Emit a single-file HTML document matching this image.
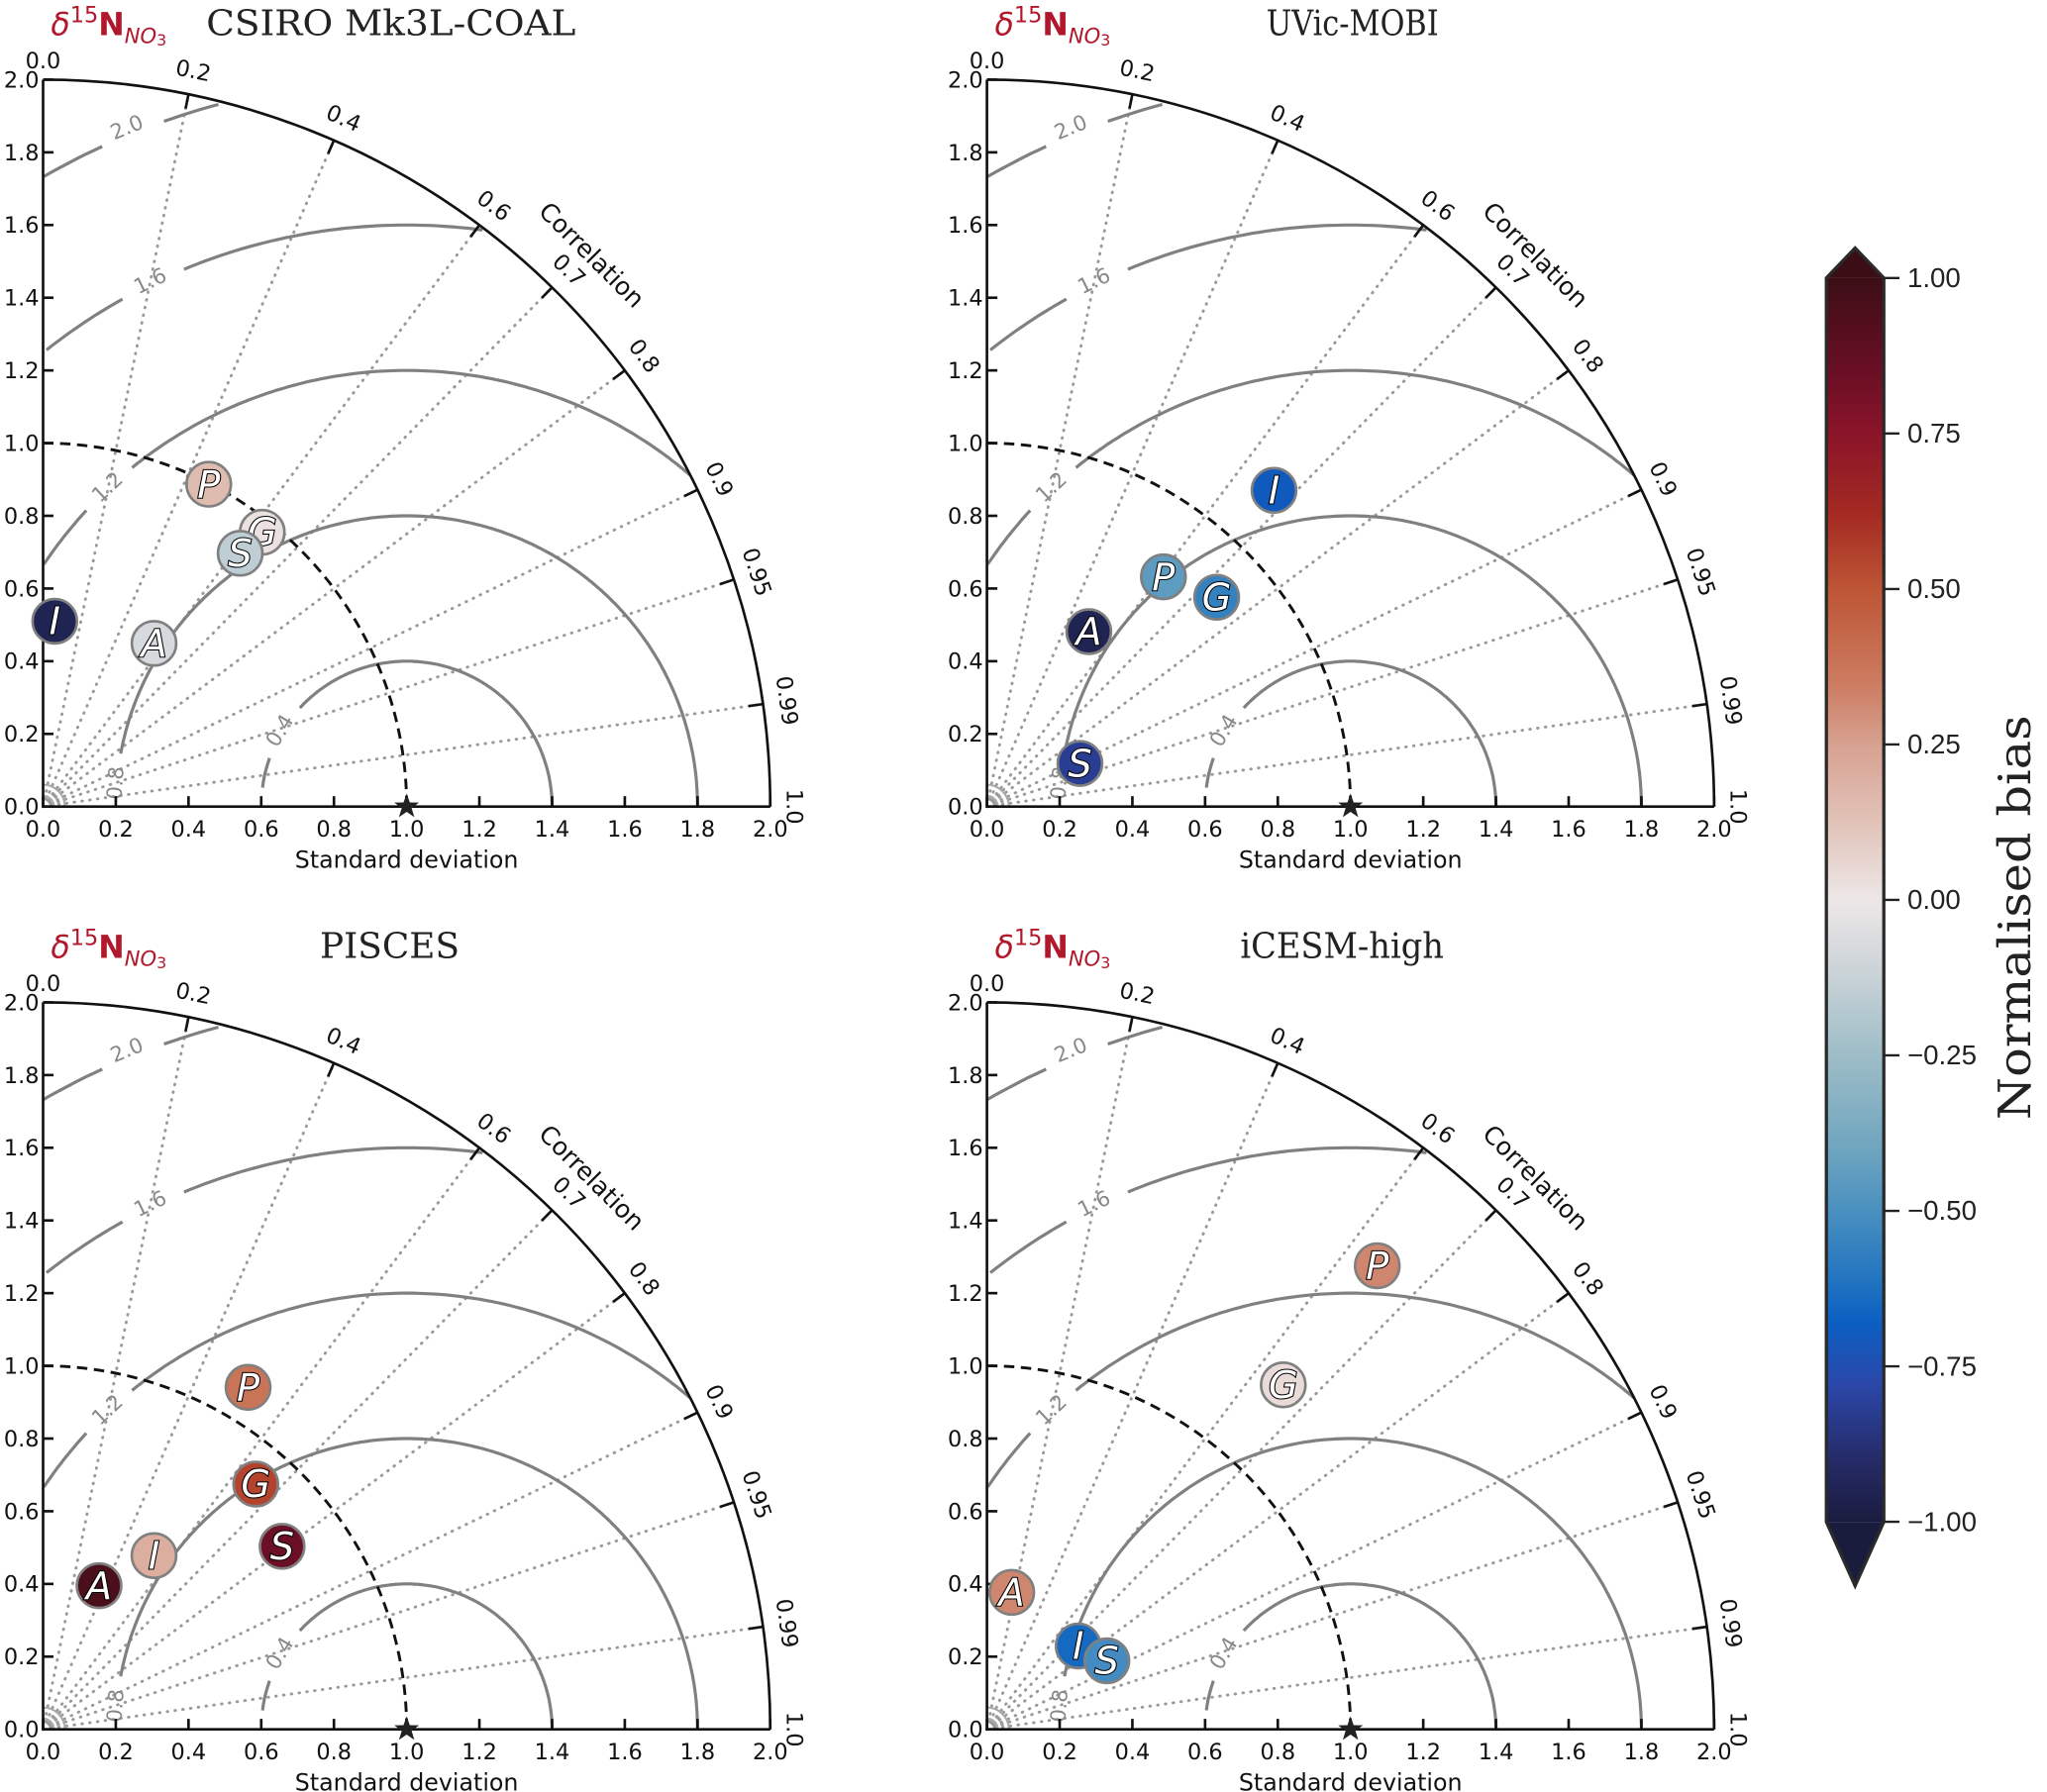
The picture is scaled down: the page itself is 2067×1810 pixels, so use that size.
<!DOCTYPE html>
<html><head><meta charset="utf-8"><style>
html,body{margin:0;padding:0;background:#fff;}
svg{display:block;}
</style></head><body>
<svg id="fig" xmlns="http://www.w3.org/2000/svg" width="2067" height="1810" viewBox="0 0 1568 1373">
<defs>
<linearGradient id="cbgrad" x1="0" y1="0" x2="0" y2="1">
<stop offset="0" stop-color="#3b0e16"/><stop offset="0.075" stop-color="#6a0f25"/><stop offset="0.125" stop-color="#8a1429"/>
<stop offset="0.19" stop-color="#a42a22"/><stop offset="0.25" stop-color="#bd5535"/><stop offset="0.325" stop-color="#cc7b60"/>
<stop offset="0.375" stop-color="#d7a190"/><stop offset="0.44" stop-color="#e2c4ba"/><stop offset="0.5" stop-color="#ede7e7"/>
<stop offset="0.55" stop-color="#d0d6da"/><stop offset="0.625" stop-color="#9ebdc7"/><stop offset="0.7" stop-color="#6fa5bf"/>
<stop offset="0.75" stop-color="#4a90c0"/><stop offset="0.81" stop-color="#1f72c0"/><stop offset="0.84" stop-color="#0b5fc2"/>
<stop offset="0.89" stop-color="#2b47a8"/><stop offset="0.95" stop-color="#262b68"/><stop offset="1" stop-color="#1a1c3e"/>
</linearGradient>
</defs>
</svg>
<script>
// ---- data ----
const panelTitles = ["CSIRO Mk3L-COAL","UVic-MOBI","PISCES","iCESM-high"];
const p1Labels = ["P","G","S","I","A"];
const p1Std = [0.997,0.966,0.883,0.511,0.543];
const p1Corr = [0.457,0.624,0.614,0.063,0.562];
const p1Bias = [0.15,0.02,-0.15,-0.95,-0.08];
const p2Labels = ["I","P","G","A","S"];
const p2Std = [1.175,0.797,0.855,0.557,0.282];
const p2Corr = [0.672,0.609,0.739,0.503,0.907];
const p2Bias = [-0.70,-0.45,-0.56,-0.95,-0.82];
const p3Labels = ["P","G","S","I","A"];
const p3Std = [1.097,0.893,0.828,0.567,0.424];
const p3Corr = [0.514,0.655,0.794,0.538,0.363];
const p3Bias = [0.38,0.55,0.85,0.20,0.95];
const p4Labels = ["P","G","A","I","S"];
const p4Std = [1.667,1.250,0.383,0.340,0.380];
const p4Corr = [0.644,0.652,0.178,0.738,0.868];
const p4Bias = [0.32,0.04,0.32,-0.65,-0.52];
const stdTicks = ["0.0","0.2","0.4","0.6","0.8","1.0","1.2","1.4","1.6","1.8","2.0"];
const corrTicks = [0.0,0.2,0.4,0.6,0.7,0.8,0.9,0.95,0.99,1.0];
const corrTickLabels = ["0.0","0.2","0.4","0.6","0.7","0.8","0.9","0.95","0.99","1.0"];
const corrLines = [0.2,0.4,0.6,0.7,0.8,0.9,0.95,0.99];
const rmsLevels = [0.4,0.8,1.2,1.6,2.0];
const rmsLabels = ["0.4","0.8","1.2","1.6","2.0"];
const cbTicks = [1.0,0.75,0.5,0.25,0.0,-0.25,-0.5,-0.75,-1.0];
const cbTickLabels = ["1.00","0.75","0.50","0.25","0.00","\u22120.25","\u22120.50","\u22120.75","\u22121.00"];
const cmapVals = [-1,-0.9,-0.78,-0.68,-0.62,-0.5,-0.4,-0.25,-0.1,0,0.12,0.25,0.35,0.5,0.62,0.75,0.85,1];
const cmapCols = ["#1a1c3e","#262b68","#2b47a8","#0b5fc2","#1f72c0","#4a90c0","#6fa5bf","#9ebdc7","#d0d6da","#ede7e7","#e2c4ba","#d7a190","#cc7b60","#bd5535","#a42a22","#8a1429","#6a0f25","#3b0e16"];

const panels = [
 {ox:33, oy:618, tx:158, tw:283, title:panelTitles[0], lab:p1Labels, std:p1Std, corr:p1Corr, bias:p1Bias},
 {ox:756, oy:618, tx:970, tw:132, title:panelTitles[1], lab:p2Labels, std:p2Std, corr:p2Corr, bias:p2Bias},
 {ox:33, oy:1325, tx:245, tw:107, title:panelTitles[2], lab:p3Labels, std:p3Std, corr:p3Corr, bias:p3Bias},
 {ox:756, oy:1325, tx:950, tw:156, title:panelTitles[3], lab:p4Labels, std:p4Std, corr:p4Corr, bias:p4Bias}
];
const U = 278.5;
const NS = "http://www.w3.org/2000/svg";
const svg = document.getElementById('fig');
const SANS = '"DejaVu Sans","Liberation Sans",sans-serif';
const SERIF = '"DejaVu Serif","Liberation Serif",serif';

function mk(tag, attrs, parent, text){
  const e = document.createElementNS(NS, tag);
  for (const k in attrs) e.setAttribute(k, attrs[k]);
  if (text !== undefined) e.textContent = text;
  (parent||svg).appendChild(e);
  return e;
}
function hex2rgb(h){return [parseInt(h.substr(1,2),16),parseInt(h.substr(3,2),16),parseInt(h.substr(5,2),16)];}
function cmap(v){
  v = Math.max(-1, Math.min(1, v));
  for (let i=0;i<cmapVals.length-1;i++){
    if (v>=cmapVals[i] && v<=cmapVals[i+1]){
      const t=(v-cmapVals[i])/(cmapVals[i+1]-cmapVals[i]);
      const a=hex2rgb(cmapCols[i]), b=hex2rgb(cmapCols[i+1]);
      return 'rgb('+a.map((c,j)=>Math.round(c+(b[j]-c)*t)).join(',')+')';
    }
  }
  return cmapCols[0];
}

panels.forEach((P, pi) => {
  const g = mk('g', {});
  
  
  const X = (x) => P.ox + x*U;
  const Y = (y) => P.oy - y*U;
  const polar = (r, c) => { const th = Math.acos(c); return [X(r*Math.cos(th)), Y(r*Math.sin(th))]; };

  // title
  const t1 = mk('text', {x:P.ox+6, y:P.oy-591, fill:'#b2182b', 'font-family':SANS, 'font-size':24}, g);
  
  
  mk('tspan', {'font-style':'italic'}, t1, 'δ');
  mk('tspan', {'font-size':17, dy:-10}, t1, '15');
  mk('tspan', {'font-weight':'bold', dy:10}, t1, 'N');
  mk('tspan', {'font-style':'italic','font-size':16, dy:6}, t1, 'NO');
  mk('tspan', {'font-size':12, dy:2}, t1, '3');
  const tt = mk('text', {x:P.tx, y:P.oy-591, fill:'#222', 'font-family':SERIF, 'font-size':27, textLength:P.tw, lengthAdjust:'spacingAndGlyphs'}, g, P.title);
  
  

  // correlation dotted lines
  corrLines.forEach(c => {
    const [x2,y2] = polar(2, c);
    const l = mk('line', {x1:X(0), y1:Y(0), x2:x2, y2:y2, stroke:'#9a9a9a', 'stroke-width':2.2, 'stroke-dasharray':'0.5 5.5', 'stroke-linecap':'round'}, g);
    
    
  });
  [0.03,0.06].forEach(r => {
    mk('path', {d:`M ${X(r)} ${Y(0)} A ${r*U} ${r*U} 0 0 0 ${X(0)} ${Y(r)}`, fill:'none', stroke:'#aaa', 'stroke-width':1.5}, g);
  });

  // RMS contours
  rmsLevels.forEach((R, i) => {
    const pts = [];
    for (let k=0;k<=240;k++){
      const phi = Math.PI*k/240;
      const x = 1 + R*Math.cos(phi), y = R*Math.sin(phi);
      if (x < 0 || x*x+y*y > 4.0001) { pts.push(null); continue; }
      if (R===0.8 && y<0.14 && x<1) { pts.push(null); continue; }
      if (R===0.4 && y<0.05 && x<1) { pts.push(null); continue; }
      pts.push([x,y]);
    }
    const lpos = [[0.65,0.21],[0.198,0.065],[0.176,0.88],[0.294,1.447],[0.23,1.87]][i];
    const cx = lpos[0], cy = lpos[1];
    let d = '', pen=false;
    pts.forEach(p => {
      if (!p || Math.hypot((p[0]-cx)*U,(p[1]-cy)*U) < 22){ pen=false; return; }
      d += (pen?' L ':' M ') + X(p[0]).toFixed(1) + ' ' + Y(p[1]).toFixed(1);
      pen = true;
    });
    const c = mk('path', {d:d, fill:'none', stroke:'#808080', 'stroke-width':2.4}, g);
    
    
    const ang = -Math.atan2(1-cx, cy)*180/Math.PI;
    const lt = mk('text', {x:X(cx), y:Y(cy), 'font-family':SANS, 'font-size':16, fill:'#888', 'text-anchor':'middle', 'dominant-baseline':'central', transform:`rotate(${ang.toFixed(1)} ${X(cx)} ${Y(cy)})`}, g, rmsLabels[i]);
    
    
  });

  const ra = mk('path', {d:`M ${X(0)} ${Y(1)} A ${U} ${U} 0 0 1 ${X(1)} ${Y(0)}`, fill:'none', stroke:'#111', 'stroke-width':2.2, 'stroke-dasharray':'8 5'}, g);
  
  

  const oa = mk('path', {d:`M ${X(0)} ${Y(2)} A ${2*U} ${2*U} 0 0 1 ${X(2)} ${Y(0)}`, fill:'none', stroke:'#111', 'stroke-width':2}, g);
  
  
  const ax = mk('path', {d:`M ${X(0)} ${Y(2)} L ${X(0)} ${Y(0)} L ${X(2)} ${Y(0)}`, fill:'none', stroke:'#111', 'stroke-width':2}, g);
  
  

  stdTicks.forEach((lab, i) => {
    const v = i*0.2;
    mk('line', {x1:X(0), y1:Y(v), x2:X(0)+8, y2:Y(v), stroke:'#111', 'stroke-width':2}, g);
    mk('line', {x1:X(v), y1:Y(0), x2:X(v), y2:Y(0)-8, stroke:'#111', 'stroke-width':2}, g);
    const yl = mk('text', {x:X(0)-3, y:Y(v)+6, 'font-family':SANS, 'font-size':17, 'text-anchor':'end', fill:'#111'}, g, lab);
    
    
    const xl = mk('text', {x:X(v), y:Y(0)+23, 'font-family':SANS, 'font-size':17, 'text-anchor':'middle', fill:'#111'}, g, lab);
    
    
  });
  const xt = mk('text', {x:X(1), y:Y(0)+47, 'font-family':SANS, 'font-size':18, 'text-anchor':'middle', fill:'#111'}, g, 'Standard deviation');
  
  

  corrTicks.forEach((c, i) => {
    const [a1,b1] = polar(1.96, c), [a2,b2] = polar(2, c);
    if (c>0 && c<1) mk('line', {x1:a1, y1:b1, x2:a2, y2:b2, stroke:'#111', 'stroke-width':2}, g);
    const r = c===0 ? 2.05 : 2.065;
    const [lx,ly] = polar(r, c);
    const rot = 90 - Math.acos(c)*180/Math.PI;
    const tl = mk('text', {x:lx, y:ly, 'font-family':SANS, 'font-size':17, 'text-anchor':'middle', 'dominant-baseline':'central', fill:'#111', transform:`rotate(${rot.toFixed(1)} ${lx} ${ly})`}, g, corrTickLabels[i]);
    
    
  });
  const [clx, cly] = polar(2.14, 0.705);
  const cl = mk('text', {x:clx, y:cly, 'font-family':SANS, 'font-size':19, 'text-anchor':'middle', 'dominant-baseline':'central', fill:'#111', transform:`rotate(45 ${clx} ${cly})`}, g, 'Correlation');
  
  

  const s = [];
  for (let k=0;k<10;k++){ const r = k%2?4:10; const a = -Math.PI/2 + k*Math.PI/5; s.push((X(1)+r*Math.cos(a)).toFixed(1)+','+(Y(0)+r*Math.sin(a)).toFixed(1)); }
  const st = mk('polygon', {points:s.join(' '), fill:'#222'}, g);
  
  

  P.lab.forEach((lab, i) => {
    const [mx, my] = polar(P.std[i], P.corr[i]);
    const mg = mk('g', {}, g);
    
    
    mk('circle', {cx:mx, cy:my, r:17, fill:cmap(P.bias[i]), stroke:'#808080', 'stroke-width':2}, mg);
    mk('text', {x:mx, y:my+10, 'font-family':SANS, 'font-size':29, 'font-style':'italic', 'text-anchor':'middle', fill:'#fff', stroke:'#000', 'stroke-width':1.6, 'paint-order':'stroke'}, mg, lab);
  });
});

// colorbar
const cb = mk('g', {});


const cbX0 = 1399, cbX1 = 1443, cbTop = 213, cbBot = 1166;
const CY = (v) => cbTop + (1 - v)/2*(cbBot-cbTop);
mk('polygon', {points:`${cbX0},${cbTop} 1421,190 ${cbX1},${cbTop}`, fill:'#3b0e16'}, cb);
mk('polygon', {points:`${cbX0},${cbBot} 1421,1215 ${cbX1},${cbBot}`, fill:'#1a1c3e'}, cb);
mk('rect', {x:cbX0, y:cbTop, width:cbX1-cbX0, height:cbBot-cbTop, fill:'url(#cbgrad)'}, cb);
mk('polygon', {points:`${cbX0},${cbTop} 1421,190 ${cbX1},${cbTop} ${cbX1},${cbBot} 1421,1215 ${cbX0},${cbBot}`, fill:'none', stroke:'#2a2a2a', 'stroke-width':2.5}, cb);
cbTicks.forEach((v, i) => {
  mk('line', {x1:cbX1, y1:CY(v), x2:cbX1+12, y2:CY(v), stroke:'#222', 'stroke-width':1.8}, cb);
  const tl = mk('text', {x:cbX1+18, y:CY(v)+7, 'font-family':'"Liberation Sans",sans-serif', 'font-size':21, fill:'#222'}, cb, cbTickLabels[i]);
  
  
});
const ct = mk('text', {x:1555, y:703, 'font-family':SERIF, 'font-size':34, fill:'#222', 'text-anchor':'middle', textLength:310, lengthAdjust:'spacingAndGlyphs', transform:'rotate(-90 1555 703)'}, cb, 'Normalised bias');


</script>
</body></html>
